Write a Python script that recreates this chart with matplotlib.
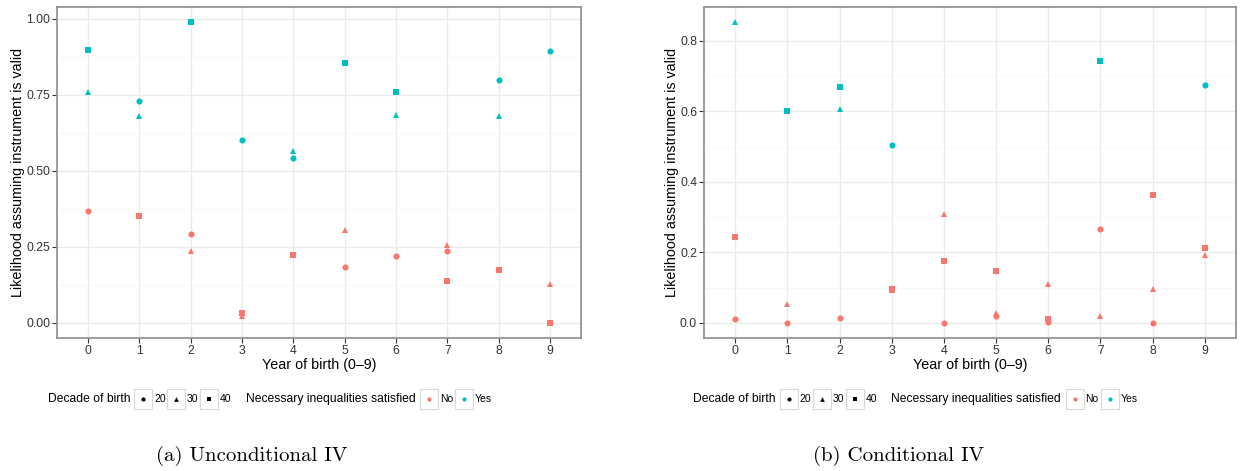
import matplotlib.pyplot as plt
from matplotlib.patches import Rectangle
from matplotlib.lines import Line2D

RED = '#F8766D'
CYAN = '#00BFC4'

years = list(range(10))
decades = ['20', '30', '40']
shapes = {'20': 'o', '30': '^', '40': 's'}
msize = {'20': 4.4, '30': 4.6, '40': 4.5}

# (a) unconditional IV, one value per year of birth for each decade
unc_20 = [0.368, 0.730, 0.293, 0.602, 0.543, 0.185, 0.221, 0.235, 0.799, 0.893]
unc_30 = [0.761, 0.681, 0.238, 0.024, 0.566, 0.307, 0.683, 0.256, 0.679, 0.127]
unc_40 = [0.897, 0.351, 0.989, 0.032, 0.225, 0.855, 0.760, 0.137, 0.173, 0.000]
unc_20_ok = [0, 1, 0, 1, 1, 0, 0, 0, 1, 1]
unc_30_ok = [1, 1, 0, 0, 1, 0, 1, 0, 1, 0]
unc_40_ok = [1, 0, 1, 0, 0, 1, 1, 0, 0, 0]

# (b) conditional IV
cond_20 = [0.010, 0.001, 0.013, 0.505, 0.001, 0.021, 0.002, 0.266, 0.001, 0.674]
cond_30 = [0.853, 0.055, 0.607, 0.093, 0.310, 0.029, 0.110, 0.020, 0.097, 0.192]
cond_40 = [0.244, 0.602, 0.670, 0.095, 0.177, 0.148, 0.011, 0.743, 0.362, 0.213]
cond_20_ok = [0, 0, 0, 1, 0, 0, 0, 0, 0, 1]
cond_30_ok = [1, 0, 1, 0, 0, 0, 0, 0, 0, 0]
cond_40_ok = [0, 1, 1, 0, 0, 0, 0, 1, 0, 0]

unc_ticks = [0.0, 0.25, 0.5, 0.75, 1.0]
unc_labels = ['0.00', '0.25', '0.50', '0.75', '1.00']
cond_ticks = [0.0, 0.2, 0.4, 0.6, 0.8]
cond_labels = ['0.0', '0.2', '0.4', '0.6', '0.8']

plt.rcParams['font.family'] = ['Liberation Sans', 'DejaVu Sans']

fig = plt.figure(figsize=(12.45, 4.71), dpi=100)


def panel(rect, vals, oks, ticks, labels, ylim):
    ax = fig.add_axes(rect)
    for d, v, ok in zip(decades, vals, oks):
        for x, y, k in zip(years, v, ok):
            ax.plot(x, y, marker=shapes[d], color=CYAN if k else RED,
                    ms=msize[d], mew=0, linestyle='none', zorder=3)
    ax.set_xlim(-0.6, 9.6)
    ax.set_ylim(*ylim)
    ax.set_xticks(years)
    ax.set_yticks(ticks)
    ax.set_yticklabels(labels)
    step = ticks[1] - ticks[0]
    ax.set_yticks([t + step / 2 for t in ticks if t + step / 2 < ylim[1]], minor=True)
    ax.grid(True, which='major', color='#EBEBEB', lw=1.0, zorder=0)
    ax.grid(True, which='minor', axis='y', color='#F6F6F6', lw=0.6, zorder=0)
    ax.set_axisbelow(True)
    ax.tick_params(which='major', length=3.5, width=0.8, color='#333333',
                   labelcolor='#333333', labelsize=8.8, pad=1.5)
    ax.tick_params(which='minor', length=0)
    for s in ax.spines.values():
        s.set_color('#8c8c8c')
        s.set_linewidth(1.2)
    ax.set_xlabel('Year of birth (0\u20139)', fontsize=10.3, labelpad=1)
    ax.set_ylabel('Likelihood assuming instrument is valid', fontsize=10.3, labelpad=0.8)
    return ax


panel([57 / 1245, 133 / 471, 524 / 1245, 331 / 471],
      [unc_20, unc_30, unc_40], [unc_20_ok, unc_30_ok, unc_40_ok],
      unc_ticks, unc_labels, (-0.0495, 1.039))
panel([704 / 1245, 133 / 471, 532 / 1245, 331 / 471],
      [cond_20, cond_30, cond_40], [cond_20_ok, cond_30_ok, cond_40_ok],
      cond_ticks, cond_labels, (-0.0427, 0.8957))

# overlay in pixel units for the legends and captions
lay = fig.add_axes([0, 0, 1, 1])
lay.set_xlim(0, 1245)
lay.set_ylim(471, 0)
lay.axis('off')


def key(x, y, marker, color):
    lay.add_patch(Rectangle((x, y - 10), 18, 20, facecolor='white',
                            edgecolor='#d9d9d9', lw=0.8))
    lay.add_line(Line2D([x + 9], [y], marker=marker, color=color,
                        ms=3.0 if marker == 'o' else 3.4, mew=0, linestyle='none'))


def legend(x0):
    y = 399
    lay.text(x0, y, 'Decade of birth', fontsize=8.7, va='center', ha='left')
    kx = [86.5, 119.5, 152.5]
    for d, dx in zip(decades, kx):
        key(x0 + dx, y, shapes[d], 'black')
        lay.text(x0 + dx + 20, y, d, fontsize=7.5, va='center', ha='left')
    lay.text(x0 + 198, y, 'Necessary inequalities satisfied', fontsize=8.7, va='center', ha='left')
    key(x0 + 372.5, y, 'o', RED)
    lay.text(x0 + 392.5, y, 'No', fontsize=7.5, va='center', ha='left')
    key(x0 + 407.5, y, 'o', CYAN)
    lay.text(x0 + 427.5, y, 'Yes', fontsize=7.5, va='center', ha='left')


legend(47.5)
legend(693)

lay.text(252, 456, '(a) Unconditional IV', fontsize=15, family='cmr10', ha='center', va='center')
lay.text(899, 456, '(b) Conditional IV', fontsize=15, family='cmr10', ha='center', va='center')

fig.savefig('out.png', dpi=100)
